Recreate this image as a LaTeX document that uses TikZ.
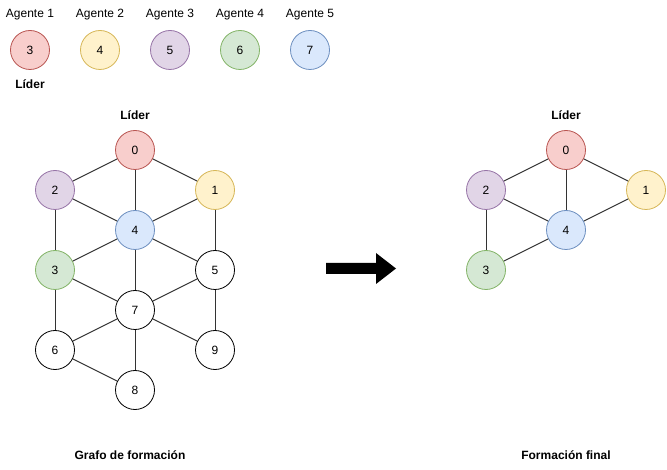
\documentclass[tikz,border=0pt]{standalone}
\usepackage{fontspec}
\setmainfont{Liberation Sans}
\definecolor{redF}{HTML}{F8CECC}\definecolor{redD}{HTML}{B85450}
\definecolor{yelF}{HTML}{FFF2CC}\definecolor{yelD}{HTML}{D6B656}
\definecolor{purF}{HTML}{E1D5E7}\definecolor{purD}{HTML}{9673A6}
\definecolor{grnF}{HTML}{D5E8D4}\definecolor{grnD}{HTML}{82B366}
\definecolor{bluF}{HTML}{DAE8FC}\definecolor{bluD}{HTML}{6C8EBF}
\definecolor{edge}{HTML}{333333}
\begin{document}
\begin{tikzpicture}[x=1pt,y=1pt,font=\fontsize{12}{14}\selectfont]
\tikzstyle{every node}+=[inner sep=0pt]
\tikzstyle{agent}=[circle,draw=black,fill=white,line width=0.8pt,minimum size=39pt]
\tikzstyle{red}=[agent,fill=redF,draw=redD]
\tikzstyle{yel}=[agent,fill=yelF,draw=yelD]
\tikzstyle{pur}=[agent,fill=purF,draw=purD]
\tikzstyle{grn}=[agent,fill=grnF,draw=grnD]
\tikzstyle{blu}=[agent,fill=bluF,draw=bluD]
\tikzstyle{link}=[edge,line width=1pt]
\tikzstyle{caption}=[font=\fontsize{12}{14}\selectfont\bfseries]
\useasboundingbox (0,0) rectangle (667,-470);
% leyenda de agentes
\node (ag1) at (30,-15) {Agente 1};
\node (ag2) at (100,-15) {Agente 2};
\node (ag3) at (170,-15) {Agente 3};
\node (ag4) at (240,-15) {Agente 4};
\node (ag5) at (310,-15) {Agente 5};
\node [red] (l3) at (30,-50) {3};
\node [yel] (l4) at (100,-50) {4};
\node [pur] (l5) at (170,-50) {5};
\node [grn] (l6) at (240,-50) {6};
\node [blu] (l7) at (310,-50) {7};
\node [caption] (lider) at (30,-84) {Líder};
% grafo de formacion
\node [caption] (liderA) at (135,-115) {Líder};
\node [red] (a0) at (135,-150) {0};
\node [yel] (a1) at (215,-190) {1};
\node [pur] (a2) at (55,-190) {2};
\node [grn] (a3) at (55,-270) {3};
\node [blu] (a4) at (135,-230) {4};
\node [agent] (a5) at (215,-270) {5};
\node [agent] (a6) at (55,-350) {6};
\node [agent] (a7) at (135,-310) {7};
\node [agent] (a8) at (135,-390) {8};
\node [agent] (a9) at (215,-350) {9};
\draw [link] (a0) -- (a2);
\draw [link] (a0) -- (a1);
\draw [link] (a0) -- (a4);
\draw [link] (a2) -- (a4);
\draw [link] (a1) -- (a4);
\draw [link] (a2) -- (a3);
\draw [link] (a4) -- (a3);
\draw [link] (a4) -- (a5);
\draw [link] (a1) -- (a5);
\draw [link] (a4) -- (a7);
\draw [link] (a3) -- (a7);
\draw [link] (a5) -- (a7);
\draw [link] (a3) -- (a6);
\draw [link] (a5) -- (a9);
\draw [link] (a7) -- (a6);
\draw [link] (a7) -- (a9);
\draw [link] (a7) -- (a8);
\draw [link] (a6) -- (a8);
\node [caption] (capA) at (130,-455) {Grafo de formación};
% flecha
\fill [black] (326,-263) -- (376,-263) -- (376,-253) -- (396,-268.5) -- (376,-284) -- (376,-274) -- (326,-274) -- cycle;
% formacion final
\node [caption] (liderB) at (566,-115) {Líder};
\node [red] (b0) at (566,-150) {0};
\node [yel] (b1) at (646,-190) {1};
\node [pur] (b2) at (486,-190) {2};
\node [grn] (b3) at (486,-270) {3};
\node [blu] (b4) at (566,-230) {4};
\draw [link] (b0) -- (b2);
\draw [link] (b0) -- (b1);
\draw [link] (b0) -- (b4);
\draw [link] (b2) -- (b4);
\draw [link] (b1) -- (b4);
\draw [link] (b2) -- (b3);
\draw [link] (b3) -- (b4);
\node [caption] (capB) at (566,-455) {Formación final};
\end{tikzpicture}
\end{document}
